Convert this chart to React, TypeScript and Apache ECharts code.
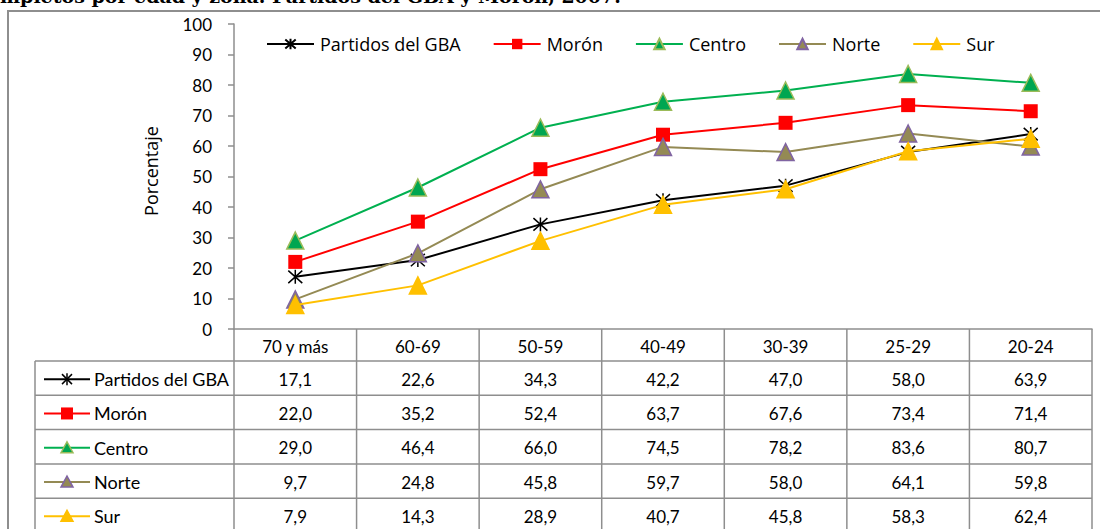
import React, { useEffect, useRef } from "react";
import * as echarts from "echarts";

const categories = ["70 y más", "60-69", "50-59", "40-49", "30-39", "25-29", "20-24"];
const seriesNames = ["Partidos del GBA", "Morón", "Centro", "Norte", "Sur"];
const gba = [17.1, 22.6, 34.3, 42.2, 47.0, 58.0, 63.9];
const moron = [22.0, 35.2, 52.4, 63.7, 67.6, 73.4, 71.4];
const centro = [29.0, 46.4, 66.0, 74.5, 78.2, 83.6, 80.7];
const norte = [9.7, 24.8, 45.8, 59.7, 58.0, 64.1, 59.8];
const sur = [7.9, 14.3, 28.9, 40.7, 45.8, 58.3, 62.4];
const titleText = "mpletos por edad y zona. Partidos del GBA y Morón, 2007.";
const yAxisTitle = "Porcentaje";

const ASTERISK = "path://M0,0L16,16M16,0L0,16M8,-1L8,17";

const W = 1100;
const H = 529;
const GRID_L = 234;
const GRID_R = 1092;
const GRID_T = 24;
const GRID_B = 329;
const HEADER_H = 32;
const ROW_H = 34.3;
const LABEL_L = 35;
const GRIDLINE = "#8e8e8e";
const TABLE_FONT = "Lato";
const LEGEND_FONT = "Open Sans";

const styles = [
  { line: "#000000", fill: "#000000", border: "#000000", symbol: "asterisk" },
  { line: "#FF0000", fill: "#FF0000", border: "#FF0000", symbol: "rect" },
  { line: "#00B050", fill: "#00A651", border: "#9BBB59", symbol: "triangle" },
  { line: "#948A54", fill: "#948A54", border: "#8064A2", symbol: "triangle" },
  { line: "#FFC000", fill: "#FFC000", border: "#FFC000", symbol: "triangle" },
];

const fmt = (v: number) => v.toFixed(1).replace(".", ",");

export default function App() {
  const ref = useRef<HTMLDivElement>(null);
  useEffect(() => {
    if (!ref.current) return;
    const chart = echarts.init(ref.current, null, { renderer: "svg" });
    const allData = [gba, moron, centro, norte, sur];
    const colW = (GRID_R - GRID_L) / categories.length;

    const graphics: any[] = [];
    graphics.push({
      type: "rect",
      shape: { x: 8, y: 11, width: 1200, height: 600 },
      style: { fill: "none", stroke: GRIDLINE, lineWidth: 2 },
      silent: true,
    });
    graphics.push({
      type: "text",
      x: 0,
      y: 5,
      style: {
        text: titleText,
        font: "bold 19px 'DejaVu Serif'",
        fill: "#000",
        verticalAlign: "bottom",
        align: "left",
      },
    });
    graphics.push({
      type: "text",
      x: 151,
      y: 171,
      rotation: Math.PI / 2,
      style: {
        text: yAxisTitle,
        font: `18px '${LEGEND_FONT}'`,
        fill: "#000",
        align: "center",
        verticalAlign: "middle",
      },
    });

    const line = (x1: number, y1: number, x2: number, y2: number) => ({
      type: "line",
      shape: { x1, y1, x2, y2 },
      style: { stroke: GRIDLINE, lineWidth: 1.5 },
      silent: true,
    });
    const nRows = seriesNames.length;
    const rowTop = GRID_B + HEADER_H;
    const tableBottom = rowTop + ROW_H * nRows;
    for (let i = 0; i <= categories.length; i++) {
      const x = GRID_L + i * colW;
      graphics.push(line(x, GRID_B, x, tableBottom));
    }
    graphics.push(line(LABEL_L, rowTop, LABEL_L, tableBottom));
    for (let r = 0; r <= nRows; r++) {
      const y = rowTop + r * ROW_H;
      graphics.push(line(LABEL_L, y, GRID_R, y));
    }
    categories.forEach((c, i) => {
      graphics.push({
        type: "text",
        x: GRID_L + (i + 0.5) * colW,
        y: GRID_B + HEADER_H / 2 + 1,
        style: {
          text: c,
          font: `17px '${TABLE_FONT}'`,
          fill: "#000",
          align: "center",
          verticalAlign: "middle",
        },
      });
    });
    seriesNames.forEach((name, r) => {
      const cy = rowTop + (r + 0.5) * ROW_H + 1;
      const st = styles[r];
      graphics.push({
        type: "line",
        shape: { x1: 44, y1: cy, x2: 90, y2: cy },
        style: { stroke: st.line, lineWidth: 2 },
      });
      const mx = 67;
      if (st.symbol === "asterisk") {
        const s = 5;
        graphics.push({ type: "line", shape: { x1: mx - s, y1: cy - s, x2: mx + s, y2: cy + s }, style: { stroke: "#000", lineWidth: 1.5 } });
        graphics.push({ type: "line", shape: { x1: mx + s, y1: cy - s, x2: mx - s, y2: cy + s }, style: { stroke: "#000", lineWidth: 1.5 } });
        graphics.push({ type: "line", shape: { x1: mx, y1: cy - s - 1, x2: mx, y2: cy + s + 1 }, style: { stroke: "#000", lineWidth: 1.5 } });
      } else if (st.symbol === "rect") {
        graphics.push({ type: "rect", shape: { x: mx - 6, y: cy - 6, width: 12, height: 12 }, style: { fill: st.fill } });
      } else {
        graphics.push({
          type: "polygon",
          shape: { points: [[mx, cy - 6], [mx + 6, cy + 5], [mx - 6, cy + 5]] },
          style: { fill: st.fill, stroke: st.border, lineWidth: 1.5 },
        });
      }
      graphics.push({
        type: "text",
        x: 94,
        y: cy,
        style: {
          text: name,
          font: `18px '${TABLE_FONT}'`,
          fill: "#000",
          align: "left",
          verticalAlign: "middle",
        },
      });
      allData[r].forEach((v, i) => {
        graphics.push({
          type: "text",
          x: GRID_L + (i + 0.5) * colW,
          y: cy,
          style: {
            text: fmt(v),
            font: `17px '${TABLE_FONT}'`,
            fill: "#000",
            align: "center",
            verticalAlign: "middle",
          },
        });
      });
    });

    const symbolFor = (s: string) => (s === "asterisk" ? ASTERISK : s);
    const sizeFor = (s: string) => (s === "asterisk" ? 14 : s === "rect" ? 14 : 17);

    chart.setOption({
      animation: false,
      grid: {
        left: GRID_L,
        right: W - GRID_R,
        top: GRID_T,
        bottom: H - GRID_B,
        containLabel: false,
      },
      legend: {
        left: 266,
        top: 35,
        padding: 0,
        itemWidth: 47,
        itemHeight: 13,
        itemGap: 32,
        textStyle: { fontFamily: LEGEND_FONT, fontSize: 18, color: "#000", padding: [0, 0, 0, 1] },
        data: seriesNames,
      },
      xAxis: {
        type: "category",
        data: categories,
        boundaryGap: true,
        axisLine: { show: true, lineStyle: { color: GRIDLINE, width: 1.5 } },
        axisTick: { show: false },
        axisLabel: { show: false },
        splitLine: { show: false },
      },
      yAxis: {
        type: "value",
        min: 0,
        max: 100,
        interval: 10,
        axisLine: { show: true, lineStyle: { color: GRIDLINE, width: 1.5 } },
        axisTick: { show: true, inside: false, length: 6, lineStyle: { color: GRIDLINE, width: 1.5 } },
        axisLabel: { margin: 22, fontFamily: TABLE_FONT, fontSize: 17, color: "#000" },
        splitLine: { show: false },
      },
      series: seriesNames.map((name, i) => ({
        name,
        type: "line",
        data: allData[i],
        symbol: symbolFor(styles[i].symbol),
        symbolSize: sizeFor(styles[i].symbol),
        lineStyle: { color: styles[i].line, width: 2 },
        itemStyle: {
          color: styles[i].fill,
          borderColor: styles[i].border,
          borderWidth: styles[i].symbol === "rect" ? 0 : 1.5,
        },
        emphasis: { disabled: true },
        z: 2 + i,
      })),
      graphic: graphics,
    });
    return () => chart.dispose();
  }, []);
  return (
    <div
      ref={ref}
      style={{ position: "fixed", left: 0, top: 0, width: W, height: H, background: "#fff" }}
    />
  );
}
